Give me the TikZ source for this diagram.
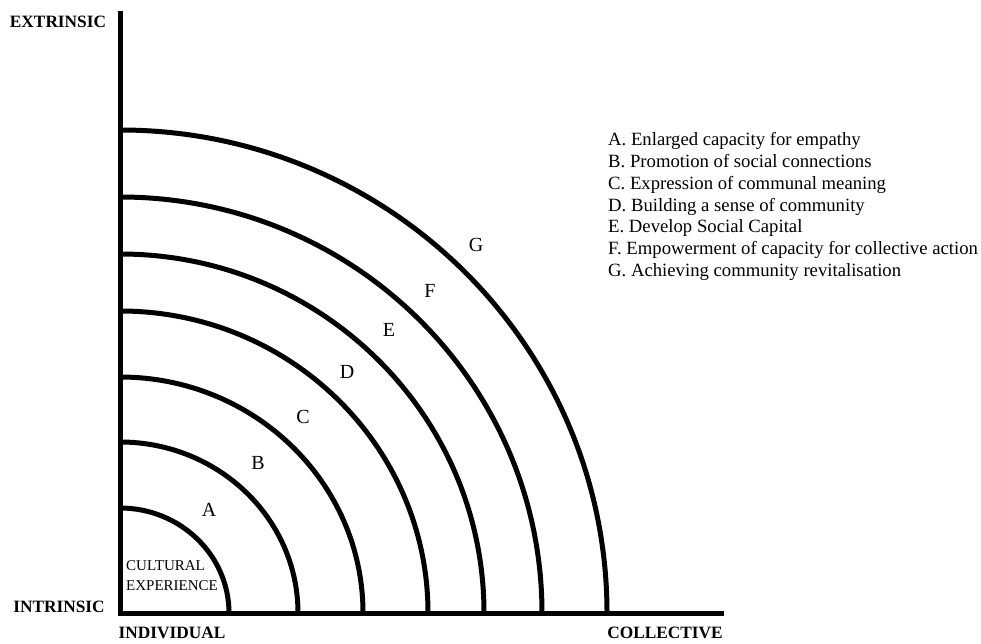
\documentclass[tikz,border=0pt]{standalone}
\usepackage{fontspec}
\setmainfont{Liberation Serif}
\usetikzlibrary{calc}

\begin{document}
\begin{tikzpicture}[x=1pt,y=1pt]
   \useasboundingbox (0,0) rectangle (981,643);
   \tikzset{ring/.style={line width=5pt},
            axislbl/.style={font=\fontsize{17.3}{20}\selectfont\bfseries},
            ringlbl/.style={font=\fontsize{20}{23}\selectfont},
            keyline/.style={anchor=base west, inner sep=0pt, font=\fontsize{18.7}{22}\selectfont}}
   % axes
   \coordinate (O) at (120,30);
   \coordinate (top) at (120,629);
   \coordinate (right) at (721,30);
   \draw [ring, line cap=rect] (top) -- (O) -- (right);
   % rings A..G
   \foreach \rx/\ry in {109/105, 178/171, 243/236, 308/302, 364/359, 422/416, 487/483}
     \draw [ring] ($(O)+(\rx,0)$) arc [start angle=0, end angle=90, x radius=\rx, y radius=\ry];
   % axis labels
   \node (ext) [axislbl] at (58,621) {EXTRINSIC};
   \node (int) [axislbl] at (59,36) {INTRINSIC};
   \node (ind) [axislbl] at (172,10) {INDIVIDUAL};
   \node (col) [axislbl] at (665,10) {COLLECTIVE};
   \node (cult) [anchor=west, align=left, inner sep=0pt,
          font=\fontsize{15}{20}\selectfont] at (126,67) {CULTURAL\\EXPERIENCE};
   % ring labels
   \node (A) [ringlbl] at (209,133) {A};
   \node (B) [ringlbl] at (258,180) {B};
   \node (C) [ringlbl] at (303,226) {C};
   \node (D) [ringlbl] at (347,271) {D};
   \node (E) [ringlbl] at (389,313) {E};
   \node (F) [ringlbl] at (430,352) {F};
   \node (G) [ringlbl] at (476,398) {G};
   % key
   \node (keyA) [keyline] at (608,497) {A. Enlarged capacity for empathy};
   \node (keyB) [keyline] at (608,475.3) {B. Promotion of social connections};
   \node (keyC) [keyline] at (608,453.6) {C. Expression of communal meaning};
   \node (keyD) [keyline] at (608,431.9) {D. Building a sense of community};
   \node (keyE) [keyline] at (608,410.2) {E. Develop Social Capital};
   \node (keyF) [keyline] at (608,388.5) {F. Empowerment of capacity for collective action};
   \node (keyG) [keyline] at (608,366.8) {G. Achieving community revitalisation};
\end{tikzpicture}
\end{document}
